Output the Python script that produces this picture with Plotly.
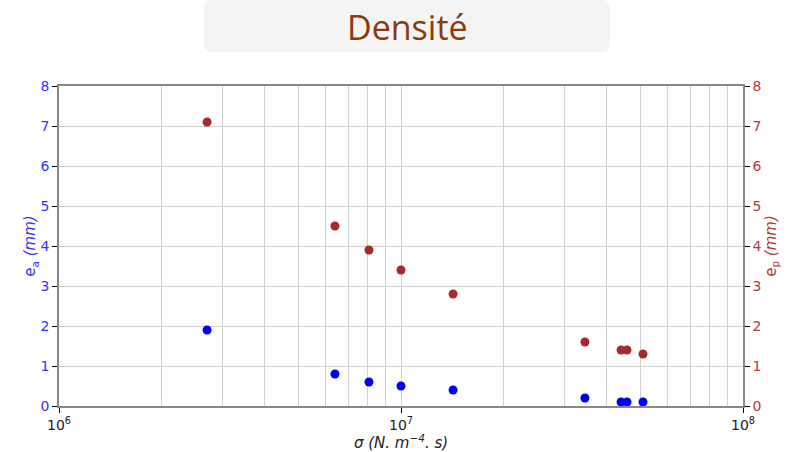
import plotly.graph_objects as go

# resistivité à l'écoulement (N.m-4.s)
sigma = [2.71e6, 6.41e6, 8.06e6, 1.0e7, 1.42e7, 3.45e7, 4.4e7, 4.58e7, 5.1e7]
# épaisseurs
e_a = [1.9, 0.8, 0.6, 0.5, 0.4, 0.2, 0.1, 0.1, 0.1]
e_p = [7.1, 4.5, 3.9, 3.4, 2.8, 1.6, 1.4, 1.4, 1.3]

x_ticks = [1e6, 1e7, 1e8]
x_ticktext = ["10<sup>6</sup>", "10<sup>7</sup>", "10<sup>8</sup>"]
x_minor = [k * 10 ** d for d in (6, 7) for k in range(2, 10)]

BLUE = "#0000ff"
BROWN = "#a52a2a"
GRID = "#d0d0d0"

fig = go.Figure()

fig.add_trace(go.Scatter(
    x=sigma, y=e_a, mode="markers", name="e_a",
    marker=dict(color=BLUE, size=9),
))
fig.add_trace(go.Scatter(
    x=sigma, y=e_p, mode="markers", name="e_p", yaxis="y2",
    marker=dict(color=BROWN, size=9),
))

# cadre gris arrondi du titre (coordonnées papier)
x0, x1, y0, y1 = 0.212, 0.8056, 1.10625, 1.26875
rx, ry = 0.0117, 0.025
path = (f"M {x0+rx},{y0} L {x1-rx},{y0} Q {x1},{y0} {x1},{y0+ry} "
        f"L {x1},{y1-ry} Q {x1},{y1} {x1-rx},{y1} L {x0+rx},{y1} "
        f"Q {x0},{y1} {x0},{y1-ry} L {x0},{y0+ry} Q {x0},{y0} {x0+rx},{y0} Z")
fig.add_shape(type="path", path=path, xref="paper", yref="paper",
              fillcolor="#f4f4f4", line=dict(width=0), layer="below")

fig.add_annotation(
    text="Densité", xref="paper", yref="paper", x=0.509, y=1.185,
    showarrow=False, xanchor="center", yanchor="middle",
    font=dict(family="Open Sans", size=34, color="#8b3a0e"),
)

fig.update_layout(
    width=794, height=452,
    margin=dict(l=59, r=51, t=86, b=46),
    paper_bgcolor="white", plot_bgcolor="white",
    showlegend=False,
    font=dict(family="DejaVu Sans", size=13),
    xaxis=dict(
        type="log", range=[6, 8], automargin=False,
        tickvals=x_ticks, ticktext=x_ticktext,
        ticks="outside", ticklen=5, tickcolor="black",
        tickfont=dict(color="#222", size=14),
        showgrid=True, gridcolor=GRID,
        minor=dict(tickvals=x_minor, showgrid=True, gridcolor=GRID, ticks=""),
        showline=True, linecolor="#888", linewidth=1.5, mirror=True,
        title=dict(text="<i>σ (N. m<sup>−4</sup>. s)</i>", font=dict(size=15, color="#222"),
                   standoff=2),
        zeroline=False,
    ),
    yaxis=dict(
        range=[0, 8], dtick=1, automargin=False,
        ticks="outside", ticklen=5, tickcolor="black",
        tickfont=dict(color="#3333ff", size=14),
        showgrid=True, gridcolor=GRID,
        showline=True, linecolor="#888", linewidth=1.5,
        title=dict(text="e<sub>a</sub> <i>(mm)</i>", font=dict(size=15, color="#3333ff"),
                   standoff=0),
        zeroline=False,
    ),
    yaxis2=dict(
        range=[0, 8], dtick=1, overlaying="y", side="right", automargin=False,
        ticks="outside", ticklen=5, tickcolor="black",
        tickfont=dict(color="#b03a3a", size=14),
        showgrid=False,
        showline=True, linecolor="#888", linewidth=1.5,
        title=dict(text="e<sub>p</sub> <i>(mm)</i>", font=dict(size=15, color="#b03a3a"),
                   standoff=4),
        zeroline=False,
    ),
)

fig.write_html("out.html", config={"displayModeBar": False},
               post_script="document.body.style.margin='0';")
